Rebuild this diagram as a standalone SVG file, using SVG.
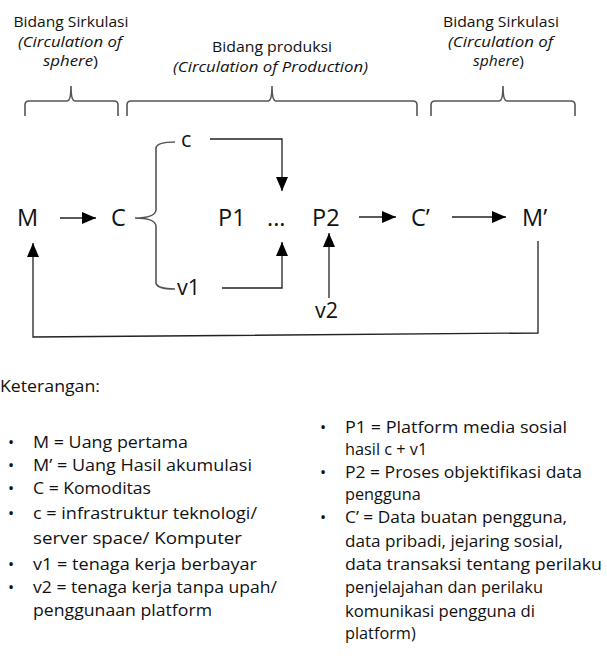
<svg xmlns="http://www.w3.org/2000/svg" width="607" height="656" viewBox="0 0 607 656">
<defs>
<marker id="ah" markerUnits="userSpaceOnUse" markerWidth="16" markerHeight="12" refX="14" refY="6" orient="auto">
<path d="M0,0 L14,6 L0,12 Z" fill="#000"/>
</marker>
<style>
text{font-family:"Open Sans","Noto Sans","Liberation Sans",sans-serif;fill:#111}
.hd{font-size:14px;text-anchor:middle}
.it{font-style:italic}
.nd{font-size:23.5px}
.sm{font-size:21.5px}
.lg{font-size:16.3px}
.br{fill:none;stroke:#555;stroke-width:1.6}
.ln{fill:none;stroke:#222;stroke-width:1.3}
</style>
</defs>
<rect width="607" height="656" fill="#fff"/>
<g id="header-left">
<text class="hd" x="71" y="27" textLength="115" lengthAdjust="spacingAndGlyphs">Bidang Sirkulasi</text>
<text class="hd it" x="70" y="46.5" textLength="104" lengthAdjust="spacingAndGlyphs">(Circulation of</text>
<text class="hd" x="70.5" y="66" textLength="55" lengthAdjust="spacingAndGlyphs"><tspan class="it">sphere</tspan>)</text>
<path class="br" d="M25,116 V105 Q25,101 29,101 H67 Q71,101 71,86 Q71,101 75,101 H114 Q118,101 118,105 V116"/>
</g>
<g id="header-mid">
<text class="hd" x="272" y="52" textLength="120" lengthAdjust="spacingAndGlyphs">Bidang produksi</text>
<text class="hd it" x="270.5" y="71.5" textLength="195" lengthAdjust="spacingAndGlyphs">(Circulation of Production)</text>
<path class="br" d="M127,116 V105 Q127,101 131,101 H268 Q272,101 272,86 Q272,101 276,101 H413 Q417,101 417,105 V116"/>
</g>
<g id="header-right">
<text class="hd" x="501" y="27" textLength="116" lengthAdjust="spacingAndGlyphs">Bidang Sirkulasi</text>
<text class="hd it" x="500.5" y="46.5" textLength="105" lengthAdjust="spacingAndGlyphs">(Circulation of</text>
<text class="hd" x="498.5" y="66" textLength="51" lengthAdjust="spacingAndGlyphs"><tspan class="it">sphere</tspan>)</text>
<path class="br" d="M431,116 V105 Q431,101 435,101 H499 Q503,101 503,86 Q503,101 507,101 H571 Q575,101 575,105 V116"/>
</g>
<g id="node-M"><text class="nd" x="17" y="226">M</text></g>
<g id="node-C"><text class="nd" x="111" y="226">C</text></g>
<g id="node-c"><text class="sm" x="181" y="147">c</text></g>
<g id="node-v1"><text class="sm" x="177" y="295">v1</text></g>
<g id="node-P1"><text class="nd" x="218" y="226">P1</text></g>
<g id="node-dots"><text class="nd" x="267" y="226">...</text></g>
<g id="node-P2"><text class="nd" x="312" y="226">P2</text></g>
<g id="node-v2"><text class="sm" x="315" y="318">v2</text></g>
<g id="node-C2"><text class="nd" x="411" y="226">C’</text></g>
<g id="node-M2"><text class="nd" x="522" y="226">M’</text></g>
<g id="brace-C">
<path class="br" d="M175,142 Q157,142 156,148 V210 Q155,218 135,218 Q155,218 156,226 V283 Q157,289 175,289"/>
</g>
<g id="connectors">
<line class="ln" x1="60" y1="218" x2="96" y2="218" marker-end="url(#ah)"/>
<path class="ln" d="M210,139 H282 V191" marker-end="url(#ah)"/>
<path class="ln" d="M222,288 H282 V242" marker-end="url(#ah)"/>
<line class="ln" x1="329" y1="298" x2="329" y2="233" marker-end="url(#ah)"/>
<line class="ln" x1="359" y1="217" x2="396" y2="217" marker-end="url(#ah)"/>
<line class="ln" x1="452" y1="217" x2="506" y2="217" marker-end="url(#ah)"/>
<path class="ln" d="M538,241 V333 L33,337 V243" marker-end="url(#ah)"/>
</g>
<g id="legend-left">
<text class="lg" x="0" y="392" textLength="100" lengthAdjust="spacingAndGlyphs">Keterangan:</text>
<text class="lg" x="8" y="448">•</text><text class="lg" x="33" y="448" textLength="155" lengthAdjust="spacingAndGlyphs">M = Uang pertama</text>
<text class="lg" x="8" y="471">•</text><text class="lg" x="33" y="471" textLength="219" lengthAdjust="spacingAndGlyphs">M’ = Uang Hasil akumulasi</text>
<text class="lg" x="8" y="494">•</text><text class="lg" x="33" y="494" textLength="118" lengthAdjust="spacingAndGlyphs">C = Komoditas</text>
<text class="lg" x="8" y="519">•</text><text class="lg" x="33" y="519" textLength="224" lengthAdjust="spacingAndGlyphs">c = infrastruktur teknologi/</text>
<text class="lg" x="33" y="544" textLength="209" lengthAdjust="spacingAndGlyphs">server space/ Komputer</text>
<text class="lg" x="8" y="570">•</text><text class="lg" x="33" y="570" textLength="224" lengthAdjust="spacingAndGlyphs">v1 = tenaga kerja berbayar</text>
<text class="lg" x="8" y="593">•</text><text class="lg" x="33" y="593" textLength="244" lengthAdjust="spacingAndGlyphs">v2 = tenaga kerja tanpa upah/</text>
<text class="lg" x="33" y="616" textLength="179" lengthAdjust="spacingAndGlyphs">penggunaan platform</text>
</g>
<g id="legend-right">
<text class="lg" x="320" y="433">•</text><text class="lg" x="345" y="433" textLength="222" lengthAdjust="spacingAndGlyphs">P1 = Platform media sosial</text>
<text class="lg" x="345" y="455">hasil c + v1</text>
<text class="lg" x="320" y="478">•</text><text class="lg" x="345" y="478" textLength="237" lengthAdjust="spacingAndGlyphs">P2 = Proses objektifikasi data</text>
<text class="lg" x="345" y="500">pengguna</text>
<text class="lg" x="320" y="523">•</text><text class="lg" x="345" y="523" textLength="222" lengthAdjust="spacingAndGlyphs">C’ = Data buatan pengguna,</text>
<text class="lg" x="345" y="547" textLength="218" lengthAdjust="spacingAndGlyphs">data pribadi, jejaring sosial,</text>
<text class="lg" x="345" y="570" textLength="257" lengthAdjust="spacingAndGlyphs">data transaksi tentang perilaku</text>
<text class="lg" x="345" y="593" textLength="198" lengthAdjust="spacingAndGlyphs">penjelajahan dan perilaku</text>
<text class="lg" x="345" y="617" textLength="190" lengthAdjust="spacingAndGlyphs">komunikasi pengguna di</text>
<text class="lg" x="345" y="639">platform)</text>
</g>
</svg>
